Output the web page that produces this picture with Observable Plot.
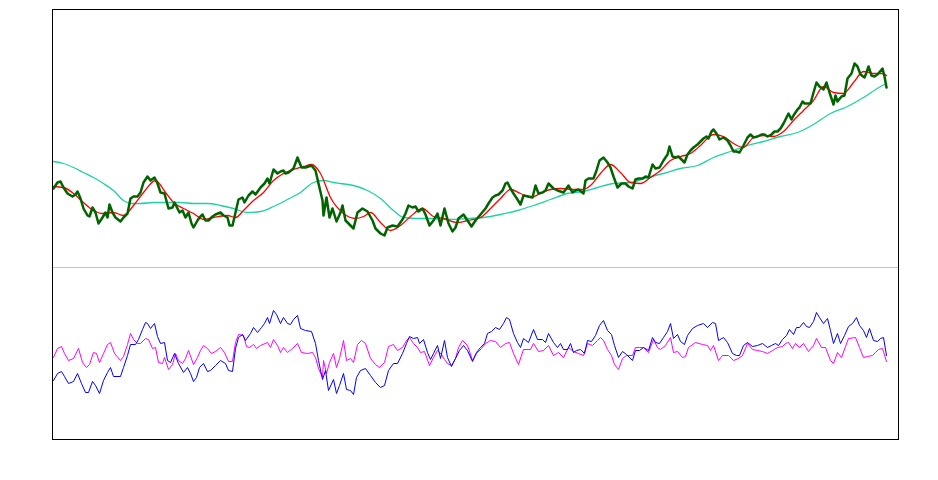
<!DOCTYPE html>
<html>
<head>
<meta charset="utf-8">
<script src="https://cdn.jsdelivr.net/npm/d3@7"></script>
<script src="https://cdn.jsdelivr.net/npm/@observablehq/plot@0.6"></script>
<style>
  html, body { margin: 0; padding: 0; background: #fff; }
  #chart { width: 938px; height: 480px; }
</style>
</head>
<body>
<div id="chart"></div>
<script>
// Price series: [time, value]
const price = [
  [1,250],[5,256],[8,257],[11,251],[15,245],[20,242],[23,244],[25,247],[28,240],[31,230],[35,223],[37,222],[40,231],[43,226],[46,215],[50,221],[53,226],[55,221],[57,234],[60,226],[63,221],[68,217],[71,221],[75,225],[78,240],[81,242],[85,242],[88,246],[91,256],[95,262],[98,258],[102,261],[105,255],[108,246],[112,245],[116,230],[120,231],[122,236],[125,230],[127,226],[130,228],[133,221],[136,226],[139,215],[141,211],[145,218],[147,221],[150,224],[153,218],[156,218],[160,222],[163,224],[168,226],[171,223],[175,221],[177,213],[180,213],[183,226],[186,239],[190,241],[192,236],[196,243],[200,247],[203,244],[208,251],[212,255],[215,260],[217,255],[221,269],[225,265],[228,267],[231,268],[233,265],[236,266],[241,270],[245,281],[249,271],[253,271],[259,273],[263,268],[266,255],[270,238],[271,223],[274,241],[277,221],[280,230],[284,217],[288,226],
  [290,233],[293,218],[296,215],[301,210],[305,226],[310,230],[315,227],[320,218],[323,210],[328,205],[332,203],[335,211],[340,213],[345,212],[350,219],[353,225],[356,233],[360,231],[363,232],[366,227],[370,230],[373,224],[377,213],[381,218],[385,225],[388,213],[392,230],[396,215],[400,207],[403,211],[406,220],[411,224],[415,218],[419,212],[423,218],[428,224],[433,230],[436,235],[440,241],[443,243],[446,244],[450,248],[453,255],[455,256],[458,250],[461,245],[465,239],[468,234],[471,243],[476,242],[480,241],[483,253],[486,245],[490,246],[493,248],[496,255],[501,250],[505,248],[508,247],[511,246],[516,253],[520,246],[523,248],[526,249],[531,245],
  [533,258],[536,260],[541,260],[544,268],[547,278],[551,281],[555,276],[558,271],[561,262],[565,251],[569,255],[573,255],[576,252],[580,250],[583,259],[586,260],[590,260],[593,262],[596,261],[600,274],[603,270],[607,271],[611,278],[615,284],[617,292],[620,282],[623,281],[626,282],[630,278],[632,276],[635,284],[638,288],[641,291],[645,294],[647,296],[651,300],[654,302],[656,300],[659,307],[661,309],[664,305],[667,299],[671,301],[675,298],[678,293],[681,287],[684,287],[687,286],[691,293],[695,301],[698,304],[701,301],[705,302],[709,304],[712,304],[715,302],[719,304],[722,307],[725,307],[728,310],[731,315],[734,321],[736,325],[739,319],[741,323],[745,329],[747,331],[750,337],[752,335],[755,335],[758,335],[761,346],[764,356],[767,352],[771,349],[774,356],[777,346],[781,334],[783,343],[785,337],[789,342],[792,343],[795,360],[799,365],[802,375],[805,372],[808,364],[812,361],[814,366],[816,372],[819,363],[822,362],[825,364],[830,370],[832,362],[834,351]
];

// Short moving average
const maShort = [
  [1,252],[11,251],[21,245],[31,236],[41,228],[50,225],[61,226],[71,223],[81,233],[91,246],[103,258],[113,246],[121,236],[131,230],[141,225],[151,219],[161,221],[175,223],[183,221],[191,228],[201,238],[211,246],[221,258],[231,265],[241,269],[251,272],[259,274],[268,265],[278,241],[291,225],[303,220],[311,222],[318,226],[328,216],[338,208],[348,213],[358,222],[370,230],[381,222],[391,220],[405,216],[415,218],[428,221],[438,230],[448,240],[458,249],[468,245],[478,241],[488,245],[498,249],[508,250],[521,249],[531,249],[538,253],[548,265],[558,274],[568,266],[578,256],[588,255],[598,261],[608,268],[618,278],[628,282],[638,285],[648,293],[661,304],[671,302],[681,295],[691,291],[701,301],[711,303],[721,302],[731,307],[741,318],[751,328],[761,338],[771,352],[781,346],[791,345],[801,356],[811,367],[821,365],[830,365],[834,363]
];

// Long moving average
const maLong = [
  [1,277],[11,275],[21,271],[31,266],[41,261],[51,255],[61,248],[71,238],[78,235],[88,235],[101,236],[115,236],[128,236],[141,235],[155,235],[168,233],[181,230],[195,226],[208,227],[221,232],[235,239],[248,246],[261,256],[271,258],[281,256],[288,255],[301,253],[315,248],[328,240],[341,228],[351,221],[365,220],[381,220],[398,219],[415,220],[431,221],[448,224],[465,228],[481,233],[498,239],[515,245],[531,247],[545,251],[561,255],[578,256],[595,261],[611,265],[628,270],[645,273],[661,281],[678,287],[695,293],[711,297],[728,302],[745,306],[761,314],[778,325],[795,332],[811,341],[828,352],[834,355]
];

// Oscillator 1 (blue), relative to its zero line
const oscBlue = [
  [1,-28],[5,-21],[9,-19],[12,-24],[16,-31],[21,-29],[25,-21],[29,-31],[33,-40],[36,-40],[40,-29],[43,-33],[47,-41],[51,-28],[55,-20],[58,-15],[61,-24],[68,-24],[71,-15],[75,-3],[78,8],[83,8],[86,13],[90,23],[93,30],[95,29],[98,24],[102,29],[105,16],[108,9],[112,10],[115,-8],[118,-10],[122,-1],[126,-11],[131,-20],[135,-15],[138,-21],[141,-29],[144,-25],[147,-15],[151,-11],[155,-19],[158,-18],[163,-13],[168,-8],[173,-11],[176,-18],[180,-19],[183,4],[186,15],[190,18],[193,12],[198,19],[201,25],[205,20],[209,25],[212,29],[215,35],[217,29],[221,42],[224,38],[228,29],[231,35],[235,29],[238,28],[241,33],[245,37],[248,24],[253,22],[259,21],[263,9],[266,-8],[270,-27],[273,-18],[276,-38],[281,-27],[284,-41],[287,-33],[291,-21],[294,-37],[298,-38],[301,-42],[304,-25],[308,-18],[313,-16],[318,-23],[323,-30],[328,-35],[332,-33],[336,-18],[341,-11],[345,-11],[350,-1],[354,9],[357,16],[361,14],[365,15],[367,9],[371,13],[375,0],[378,-7],[381,-1],[385,7],[388,-6],[392,12],[395,-5],[399,-14],[403,-6],[407,2],[411,7],[415,2],[420,-9],[424,0],[428,5],[432,9],[435,19],[439,21],[443,25],[447,23],[451,29],[454,35],[457,33],[461,19],[465,10],[468,5],[471,14],[476,10],[481,23],[485,13],[490,13],[493,10],[496,19],[501,10],[505,5],[508,9],[511,3],[515,3],[518,9],[521,0],[524,2],[528,3],[532,-1],[535,12],[539,11],[543,17],[547,27],[551,32],[555,22],[559,18],[562,7],[566,-5],[570,1],[574,-2],[580,-8],[583,2],[587,2],[591,5],[596,2],[600,15],[603,10],[607,9],[611,15],[615,21],[618,29],[621,14],[625,18],[628,11],[632,8],[635,17],[640,24],[645,27],[651,29],[655,25],[660,30],[663,29],[666,12],[671,15],[675,10],[680,-1],[684,-3],[687,-3],[691,7],[695,10],[700,6],[705,7],[710,9],[715,5],[719,7],[723,9],[726,7],[730,13],[734,17],[737,23],[741,18],[744,25],[747,25],[751,30],[754,26],[757,25],[761,31],[764,40],[767,35],[771,29],[775,34],[778,22],[781,9],[785,19],[788,9],[792,17],[796,26],[800,29],[804,35],[807,27],[811,22],[814,15],[817,24],[821,12],[825,11],[828,14],[831,15],[834,-3]
];

// Oscillator 2 (magenta), relative to its zero line
const oscMagenta = [
  [1,-5],[5,4],[9,6],[12,-1],[16,-8],[21,-6],[26,4],[30,-10],[34,-15],[37,-12],[41,0],[44,-1],[47,-10],[51,-1],[55,8],[58,10],[62,-1],[68,-8],[71,-4],[75,8],[78,19],[81,13],[85,9],[88,9],[93,14],[96,13],[100,4],[103,5],[106,-10],[110,-11],[112,-5],[116,-17],[120,-12],[123,-1],[126,-8],[130,-11],[133,-6],[136,2],[141,-12],[145,-5],[148,2],[151,7],[155,4],[159,-1],[163,1],[168,5],[172,0],[176,-9],[180,-9],[183,10],[186,18],[191,17],[194,6],[197,5],[201,8],[204,4],[208,7],[215,10],[218,5],[221,13],[225,7],[228,0],[231,5],[235,0],[240,4],[245,9],[249,0],[255,-1],[260,0],[263,-5],[266,-16],[270,-25],[271,-8],[274,-21],[277,-10],[281,-1],[284,-15],[287,-6],[291,12],[294,-8],[298,-6],[301,-10],[305,8],[309,12],[313,9],[318,-6],[323,-12],[327,-15],[332,-10],[336,6],[341,8],[345,2],[350,5],[354,12],[357,15],[361,9],[365,5],[368,0],[372,1],[377,-13],[381,-5],[385,2],[389,-2],[392,-7],[395,-11],[399,-13],[403,-6],[406,5],[410,12],[415,7],[420,-8],[424,-1],[429,4],[433,9],[438,12],[443,11],[448,5],[453,9],[457,10],[461,-1],[466,-12],[471,3],[478,3],[481,9],[486,1],[491,2],[496,7],[501,-3],[506,0],[511,-5],[516,5],[521,1],[526,-1],[531,-3],[535,9],[540,7],[545,12],[548,15],[551,12],[555,3],[559,-3],[562,-12],[566,-17],[570,-6],[574,-3],[580,-3],[583,5],[587,5],[591,5],[596,0],[601,13],[605,5],[608,3],[613,7],[618,15],[621,0],[625,1],[630,-5],[633,-4],[636,5],[643,10],[650,8],[655,7],[658,2],[661,7],[666,-8],[670,-3],[676,-3],[681,-8],[686,-6],[690,-3],[695,9],[700,3],[705,2],[710,1],[715,-1],[720,2],[725,5],[730,6],[733,9],[736,10],[740,4],[743,9],[747,5],[751,9],[756,1],[761,7],[764,14],[769,5],[773,5],[778,-8],[781,-11],[785,0],[789,-5],[793,6],[796,14],[803,15],[807,5],[811,-5],[815,-4],[820,-3],[823,0],[826,3],[830,4],[834,-9]
];

const OSC_ZERO = 86;   // level of the oscillator zero line on the shared y scale
const SPLIT = 171;     // separator between the two panels

const toRows = arr => arr.map(([t, v]) => ({t, v}));

const chart = Plot.plot({
  width: 938,
  height: 480,
  marginLeft: 52,
  marginRight: 40,
  marginTop: 9,
  marginBottom: 41,
  x: {domain: [0, 846], axis: null},
  y: {domain: [-1, 429], axis: null},
  marks: [
    Plot.ruleY([SPLIT], {stroke: "#c4c4c4", strokeWidth: 1}),
    Plot.line(toRows(oscMagenta), {x: "t", y: d => d.v + OSC_ZERO, stroke: "magenta", strokeWidth: 1}),
    Plot.line(toRows(oscBlue), {x: "t", y: d => d.v + OSC_ZERO, stroke: "blue", strokeWidth: 1}),
    Plot.line(toRows(maLong), {x: "t", y: "v", stroke: "#1fd1a2", strokeWidth: 1.3, curve: "monotone-x"}),
    Plot.line(toRows(maShort), {x: "t", y: "v", stroke: "red", strokeWidth: 1.3, curve: "monotone-x"}),
    Plot.line(toRows(price), {x: "t", y: "v", stroke: "#006400", strokeWidth: 2.5, strokeLinejoin: "round"}),
    Plot.frame({stroke: "black", strokeWidth: 1})
  ]
});
document.getElementById("chart").appendChild(chart);
</script>
</body>
</html>
